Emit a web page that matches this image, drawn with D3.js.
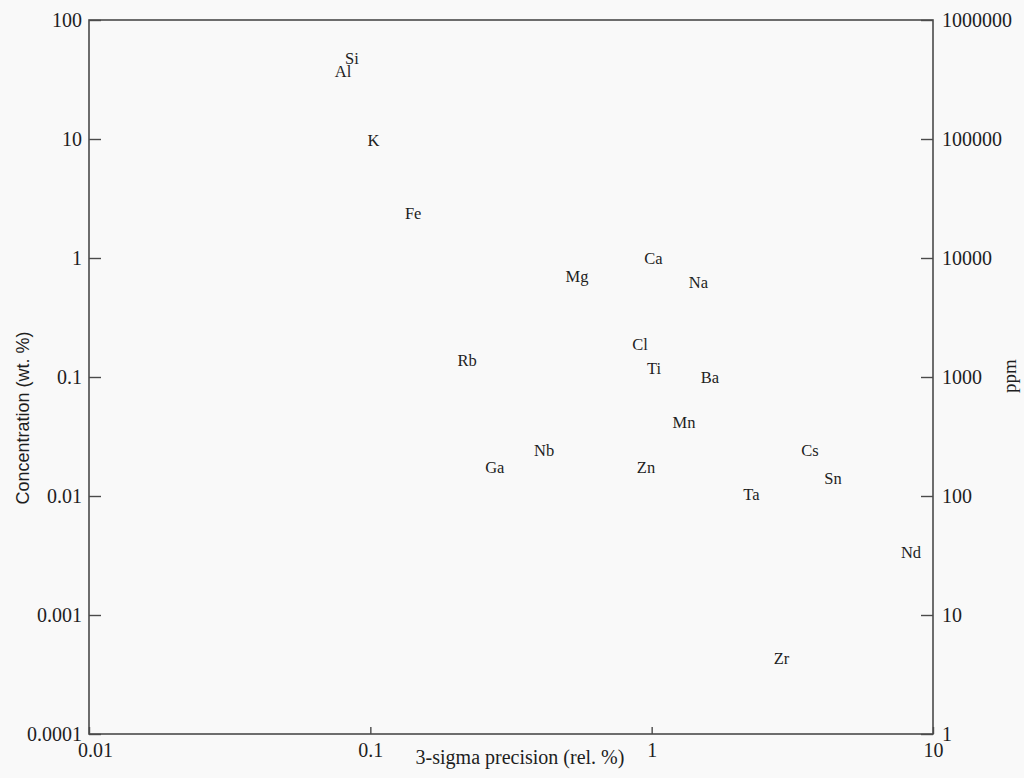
<!DOCTYPE html>
<html>
<head>
<meta charset="utf-8">
<script src="https://cdn.jsdelivr.net/npm/d3@7"></script>
<style>
  html, body { margin: 0; padding: 0; background: #f9f9f9; }
  svg { display: block; }
</style>
</head>
<body>
<svg id="chart" width="1024" height="778"></svg>
<script>
// ---- data ----
const elements = ["Si","Al","K","Fe","Ca","Mg","Na","Cl","Rb","Ti","Ba","Mn","Nb","Ga","Zn","Cs","Sn","Ta","Nd","Zr"];
const precision = [0.086,0.080,0.1026,0.142,1.015,0.543,1.467,0.909,0.221,1.019,1.612,1.303,0.4145,0.277,0.955,3.655,4.41,2.264,8.35,2.894];
const concentration = [47.9,37.3,9.81,2.37,1.0,0.706,0.628,0.189,0.139,0.119,0.100,0.0418,0.0244,0.0175,0.0175,0.0244,0.0142,0.0104,0.00338,0.000435];
const xTicks = [0.01,0.1,1,10];
const xTickLabels = ["0.01","0.1","1","10"];
const yTicks = [100,10,1,0.1,0.01,0.001,0.0001];
const yTickLabels = ["100","10","1","0.1","0.01","0.001","0.0001"];
const ppmTicks = [1000000,100000,10000,1000,100,10,1];
const ppmTickLabels = ["1000000","100000","10000","1000","100","10","1"];
const xTitle = "3-sigma precision (rel. %)";
const yTitle = "Concentration (wt. %)";
const y2Title = "ppm";

// ---- layout ----
const L = 89, R = 933, T = 20, B = 734;
const svg = d3.select("#chart");
const axisColor = "#4a4a4a";
const textColor = "#1e1e1e";
const serif = "'Liberation Serif','Times New Roman',serif";

const x = d3.scaleLog().domain([0.01, 10]).range([L, R]);
const y = d3.scaleLog().domain([0.0001, 100]).range([B, T]);
const y2 = d3.scaleLog().domain([1, 1000000]).range([B, T]);

// frame
svg.append("rect").attr("x", L).attr("y", T).attr("width", R - L).attr("height", B - T)
  .attr("fill", "none").attr("stroke", axisColor).attr("stroke-width", 1.6);

function styleAxis(g) {
  g.select(".domain").remove();
  g.selectAll(".tick line").attr("stroke", axisColor).attr("stroke-width", 1.4);
  g.selectAll(".tick text").attr("fill", textColor)
    .style("font-family", serif).style("font-size", "20px");
}

// left axis
svg.append("g").attr("transform", `translate(${L},0)`)
  .call(d3.axisLeft(y).tickValues(yTicks).tickSizeInner(-12).tickSizeOuter(0).tickPadding(7)
    .tickFormat((d, i) => yTickLabels[i]))
  .call(styleAxis);

// right axis
svg.append("g").attr("transform", `translate(${R},0)`)
  .call(d3.axisRight(y2).tickValues(ppmTicks).tickSizeInner(-12).tickSizeOuter(0).tickPadding(9)
    .tickFormat((d, i) => ppmTickLabels[i]))
  .call(styleAxis);

// bottom axis
const xg = svg.append("g").attr("transform", `translate(0,${B})`)
  .call(d3.axisBottom(x).tickValues(xTicks).tickSizeInner(-7).tickSizeOuter(0).tickPadding(9)
    .tickFormat((d, i) => xTickLabels[i]))
  .call(styleAxis);
xg.selectAll(".tick text").filter((d, i) => i === 0).attr("dx", 6);

// titles
svg.append("text").attr("x", 520).attr("y", 764).attr("text-anchor", "middle")
  .attr("fill", textColor).style("font-family", serif).style("font-size", "20px")
  .text(xTitle);

svg.append("text").attr("transform", "translate(29,418) rotate(-90)").attr("text-anchor", "middle")
  .attr("fill", textColor).style("font-family", "'Liberation Sans',Arial,sans-serif").style("font-size", "18px")
  .text(yTitle);

svg.append("text").attr("transform", "translate(1016,376) rotate(-90)").attr("text-anchor", "middle")
  .attr("fill", textColor).style("font-family", serif).style("font-size", "19px")
  .text(y2Title);

// element labels as marks
svg.append("g").selectAll("text").data(elements).join("text")
  .attr("x", (d, i) => x(precision[i]))
  .attr("y", (d, i) => y(concentration[i]))
  .attr("text-anchor", "middle")
  .attr("dy", "0.35em")
  .attr("fill", textColor)
  .style("font-family", serif).style("font-size", "16.5px")
  .text(d => d);
</script>
</body>
</html>
